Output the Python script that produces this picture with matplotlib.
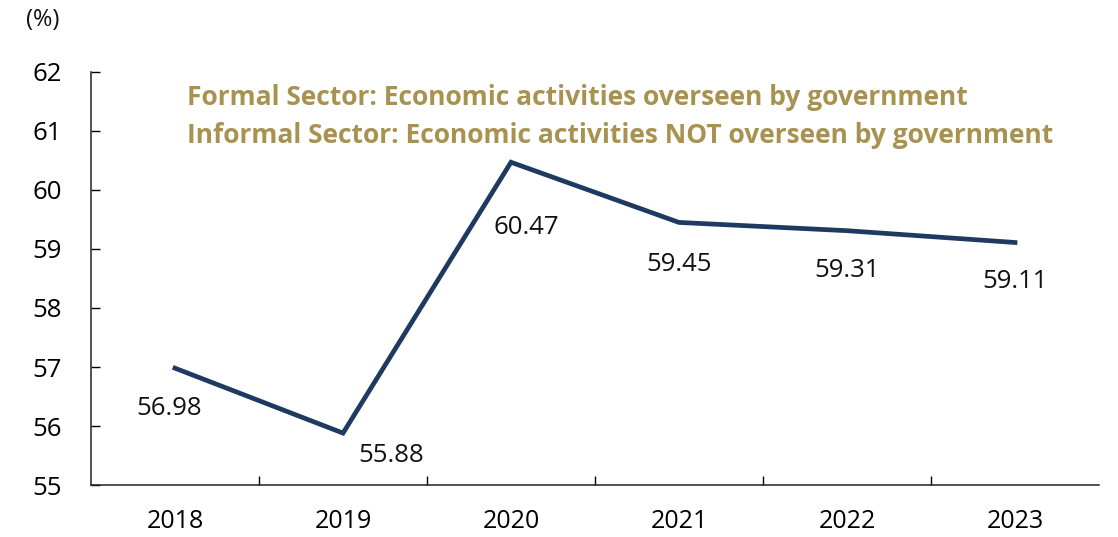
import matplotlib
matplotlib.use("Agg")
import matplotlib.pyplot as plt

# Share of informal sector (%)
years = ["2018", "2019", "2020", "2021", "2022", "2023"]
share = [56.98, 55.88, 60.47, 59.45, 59.31, 59.11]

# label offsets in points (dx, dy) relative to each point
label_offsets = [(-4, -29), (35, -16), (11, -47), (0, -30), (0, -29), (0, -28)]

plt.rcParams['font.family'] = ['Open Sans', 'DejaVu Sans']

fig = plt.figure(figsize=(11.18, 5.37), dpi=100)
ax = fig.add_axes([0.0814, 0.0968, 0.9016, 0.7692])

x = list(range(len(years)))
ax.plot(x, share, color='#1f3a60', linewidth=3.4, solid_joinstyle='miter')

for xi, v, (dx, dy) in zip(x, share, label_offsets):
    ax.annotate(f"{v:.2f}", (xi, v), xytext=(dx, dy), textcoords='offset points',
                ha='center', va='center', fontsize=18.5, color='#111111')

ax.set_xlim(-0.5, len(years) - 0.5)
ax.set_ylim(55, 62)
ax.set_yticks(range(55, 63))
ax.tick_params(axis='y', direction='in', length=6.5, width=1, labelsize=18.5, pad=21)

# category labels centered, tick marks on the category boundaries
ax.set_xticks([i + 0.5 for i in x[:-1]])
ax.set_xticklabels([])
ax.set_xticks(x, minor=True)
ax.set_xticklabels(years, minor=True)
ax.tick_params(axis='x', which='major', direction='in', length=6.5, width=1)
ax.tick_params(axis='x', which='minor', length=0, labelsize=18, pad=17)

for s in ('top', 'right'):
    ax.spines[s].set_visible(False)
for s in ('left', 'bottom'):
    ax.spines[s].set_linewidth(1.1)
    ax.spines[s].set_color('#222222')

gold = '#a8924f'
fig.text(0.167, 0.818, "Formal Sector: Economic activities overseen by government",
         fontsize=19, fontweight='bold', color=gold, va='center')
fig.text(0.167, 0.747, "Informal Sector: Economic activities NOT overseen by government",
         fontsize=19, fontweight='bold', color=gold, va='center')

fig.text(0.038, 0.962, "(%)", fontsize=17, color='#111111', ha='center', va='center')

fig.savefig("out.png", dpi=100)
